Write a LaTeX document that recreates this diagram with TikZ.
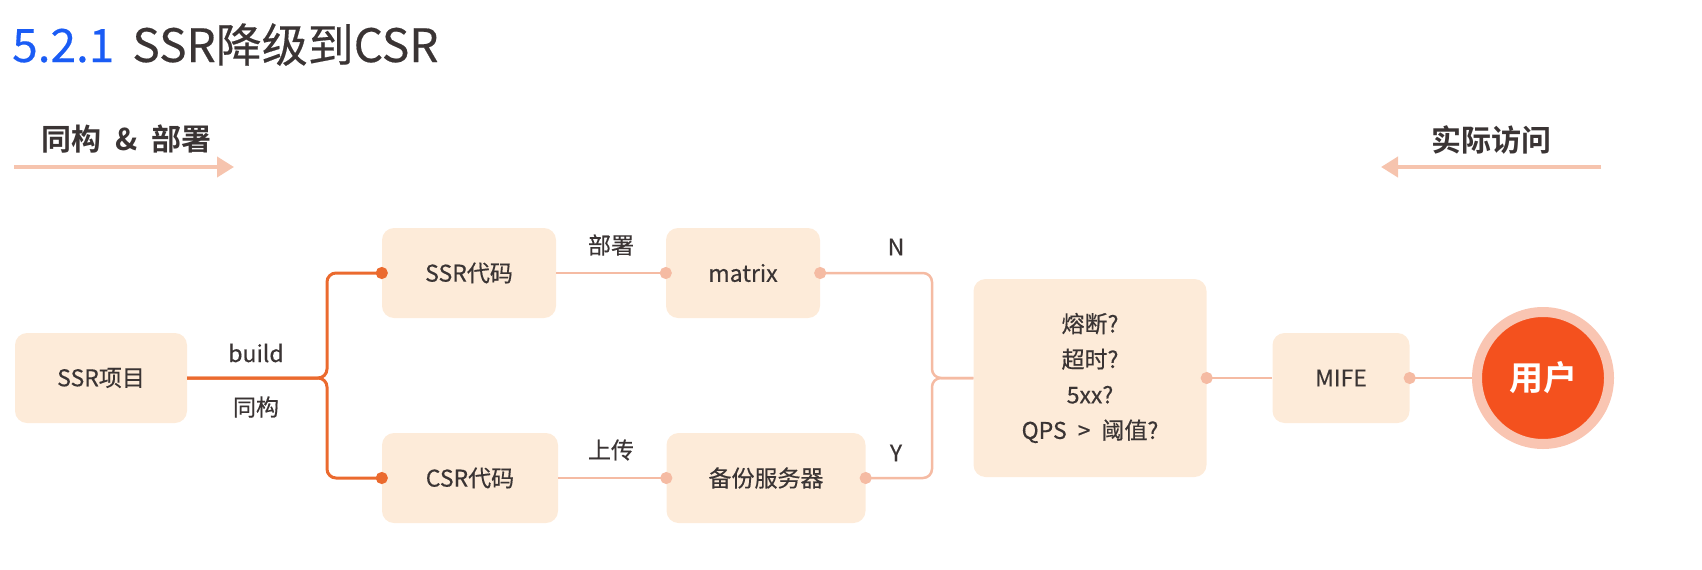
\documentclass[tikz,border=0pt]{standalone}
\usepackage{fontspec}
\setmainfont{Noto Sans CJK SC}[BoldFont={Noto Sans CJK SC Bold},UprightFeatures={FakeBold=0.4}]
\usetikzlibrary{arrows.meta}
\definecolor{boxfill}{HTML}{FDEBD9}
\definecolor{deeporange}{HTML}{EB6A2E}
\definecolor{lightline}{HTML}{F5BBA3}
\definecolor{arrowpink}{HTML}{F6C4AE}
\definecolor{userred}{HTML}{F4511E}
\definecolor{userring}{HTML}{F9C5B2}
\definecolor{titleblue}{HTML}{1A5CF5}
\definecolor{textgray}{HTML}{3A3434}

\begin{document}
\begin{tikzpicture}[x=1pt,y=-1pt,
  box/.style={fill=boxfill,rounded corners=12pt,minimum height=90pt,inner sep=0pt,text=textgray,font=\fontsize{23}{28}\selectfont},
  lbl/.style={text=textgray,font=\fontsize{23}{28}\selectfont},
  head/.style={text=textgray,font=\bfseries\fontsize{30}{36}\selectfont},
  darklink/.style={draw=deeporange,line width=3pt,rounded corners=9pt},
  lightlink/.style={draw=lightline,line width=2.5pt,rounded corners=9pt},
  dotend/.style={-{Circle[length=12pt]},shorten >=-6pt},
  dotstart/.style={{Circle[length=12pt]}-,shorten <=-6pt},
  toparrow/.style={draw=arrowpink,line width=4pt,-{Triangle[length=17pt,width=20pt]}}]
\useasboundingbox (0,0) rectangle (1702,570);
\node[anchor=base west,inner sep=0pt,font=\fontsize{46}{52}\selectfont] (title) at (12,62)
  {\textcolor{titleblue}{5.2.1}\hspace{18pt}\textcolor{textgray}{SSR降级到CSR}};
\node[head,anchor=west,inner sep=0pt] (buildhead) at (41,139) {同构\hspace{14pt}\&\hspace{14pt}部署};
\node[head,anchor=east,inner sep=0pt] (visithead) at (1552,140) {实际访问};
\coordinate (buildfrom) at (14,167);
\coordinate (buildto) at (234,167);
\coordinate (visitfrom) at (1601,167);
\coordinate (visitto) at (1381,167);
\draw[toparrow] (buildfrom) -- (buildto);
\draw[toparrow] (visitfrom) -- (visitto);

\node[box,minimum width=172pt] (ssrproj) at (101,378) {SSR项目};
\node[box,minimum width=174pt] (ssrcode) at (469,273) {SSR代码};
\node[box,minimum width=154pt] (matrix) at (743,273) {matrix};
\node[box,minimum width=176pt] (csrcode) at (470,478) {CSR代码};
\node[box,minimum width=199pt] (backup) at (766,478) {备份服务器};
\node[box,minimum width=233pt,minimum height=198pt,align=center,font=\fontsize{23}{35.5}\selectfont] (decision) at (1090,378)
  {熔断?\\超时?\\5xx?\\QPS\hspace{11pt}>\hspace{11pt}阈值?};
\node[box,minimum width=137pt] (mife) at (1341,378) {MIFE};
\node[circle,fill=userred,draw=userring,line width=10pt,minimum size=132pt,inner sep=0pt,text=white,font=\bfseries\fontsize{34}{40}\selectfont] (user) at (1543,378) {用户};

\node[lbl] (buildlbl) at (256,353) {build};
\node[lbl] (isolbl) at (256,407) {同构};
\node[lbl] (deploylbl) at (611,245) {部署};
\node[lbl] (uploadlbl) at (611,450) {上传};
\node[lbl] (nlbl) at (896,247) {N};
\node[lbl] (ylbl) at (896,453) {Y};

\coordinate (split) at (327,378);
\coordinate (merge) at (932,378);
\draw[darklink,dotend] (ssrproj.east) -- (split) |- (ssrcode.west);
\draw[darklink,dotend] (ssrproj.east) -- (split) |- (csrcode.west);
\draw[lightlink,dotend] (ssrcode.east) -- (matrix.west);
\draw[lightlink,dotend] (csrcode.east) -- (backup.west);
\draw[lightlink,dotstart] (matrix.east) -| (merge) -- (decision.west);
\draw[lightlink,dotstart] (backup.east) -| (merge) -- (decision.west);
\draw[lightlink,dotstart] (decision.east) -- (mife.west);
\draw[lightlink,dotstart] (mife.east) -- (user.west);
\end{tikzpicture}
\end{document}
